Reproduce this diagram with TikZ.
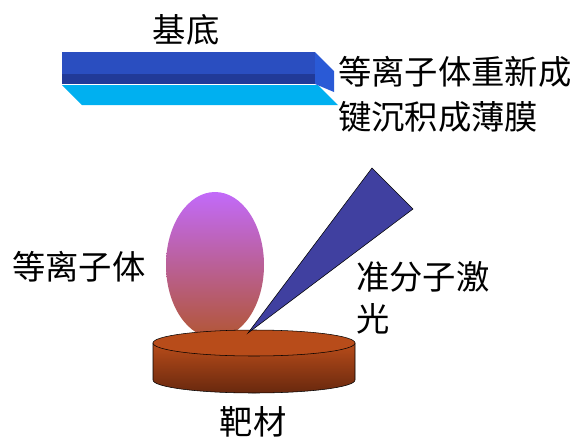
\documentclass[tikz,border=0pt]{standalone}
\usepackage{fontspec}
\usepackage{tikz}
\usepackage{xcolor}
\newfontfamily\cjk{Noto Sans CJK SC}
\definecolor{slabtop}{RGB}{42,78,192}
\definecolor{slabfront}{RGB}{33,58,152}
\definecolor{slabside}{RGB}{42,90,214}
\definecolor{film}{RGB}{0,176,240}
\definecolor{laser}{RGB}{64,64,160}
\definecolor{plasmatop}{RGB}{194,106,250}
\definecolor{plasmabot}{RGB}{178,86,52}
\definecolor{targettop}{RGB}{184,76,26}
\definecolor{targetbot}{RGB}{104,40,14}

\begin{document}
\begin{tikzpicture}[x=0.75pt,y=-0.75pt,
    lbl/.style={inner sep=0pt,font=\cjk\fontsize{25}{34}\selectfont}]
    \useasboundingbox (0,0) rectangle (583,437);
    % substrate and deposited film
    \fill [film] (62,85)--(318,85)--(338,105)--(82,105)--cycle;
    \fill [slabside] (315,52)--(334,71)--(334,92)--(315,84)--cycle;
    \fill [slabtop] (62,52)--(315,52)--(315,74)--(62,74)--cycle;
    \fill [slabfront] (62,74)--(315,74)--(315,84)--(62,84)--cycle;
    % plasma plume
    \shade [top color=plasmatop,bottom color=plasmabot] (215,265) ellipse [x radius=49,y radius=73];
    % target disc
    \shade [top color=targettop,bottom color=targetbot,draw=black,thin]
        (153,343)--(153,380) arc [start angle=180,end angle=0,x radius=101,y radius=13]
        --(355,343)--cycle;
    \filldraw [fill=targettop,draw=black,thin] (254,343) ellipse [x radius=101,y radius=13];
    % laser beam
    \filldraw [fill=laser,draw=black,thin] (248,333)--(372,168)--(413,209)--cycle;
    % labels
    \node[lbl] (substrate) at (186,30) {基底};
    \node[lbl,anchor=north west,align=left,font=\cjk\fontsize{25}{33.75}\selectfont] (redeposit) at (338,56) {等离子体重新成\\键沉积成薄膜};
    \node[lbl,anchor=west] (plume) at (12,267) {等离子体};
    \node[lbl,anchor=north west,align=left,font=\cjk\fontsize{25}{31.5}\selectfont] (beam) at (356,261) {准分子激\\光};
    \node[lbl] (target) at (253,422) {靶材};
\end{tikzpicture}
\end{document}
